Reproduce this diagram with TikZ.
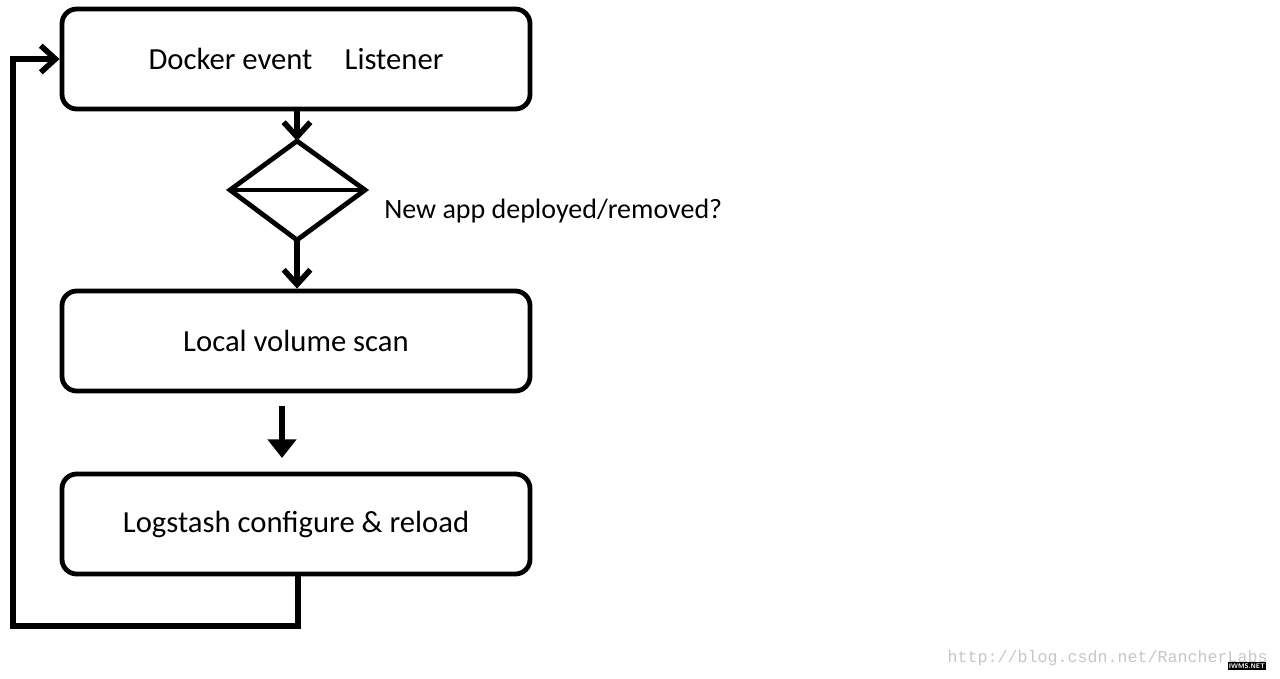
\documentclass[tikz,border=0pt]{standalone}
\usepackage{fontspec}
\setmainfont{Carlito}
\newfontfamily\wmfont{Liberation Mono}
\usetikzlibrary{arrows.meta}
\begin{document}
\begin{tikzpicture}[x=0.75pt,y=-0.75pt,
  box/.style={draw,line width=3.6pt,rounded corners=11pt,minimum width=351pt,minimum height=75pt,inner sep=0pt,font=\fontsize{23}{27}\selectfont},
  flow/.style={line width=3.8pt,-{Straight Barb[length=11pt,width=20pt,line width=4.2pt]}},
  lbl/.style={font=\fontsize{21}{25}\selectfont,anchor=west,inner sep=0pt}]
\useasboundingbox (0,0) rectangle (1280,678);
\node[box] (b1) at (296,59) {Docker event\hspace{1.05em}Listener};
\node[box] (b2) at (296,341) {Local volume scan};
\node[box] (b3) at (296,524) {Logstash configure \& reload};
\coordinate (dt) at (297,141);
\coordinate (db) at (297,240);
\coordinate (dl) at (230,190);
\coordinate (dr) at (365,190);
\draw[line width=3.6pt,line join=miter] (dt) -- (dr) -- (db) -- (dl) -- cycle;
\draw[line width=3.6pt] (dl) -- (dr);
\node[lbl] (q) at (384,211) {New app deployed/removed?};
\draw[flow] (b1.south -| dt) -- (dt);
\draw[flow] (db) -- (b2.north -| db);
\coordinate (a3s) at (282,406);
\coordinate (a3e) at (282,458);
\draw[line width=3.8pt,-{Triangle[length=14pt,width=21pt]}] (a3s) -- (a3e);
\coordinate (lp1) at (298,626);
\coordinate (lp2) at (13,626);
\coordinate (lp3) at (13,59);
\draw[flow,line join=miter] (b3.south -| lp1) -- (lp1) -- (lp2) -- (lp3) -- (b1.west |- lp3);
\node[font=\wmfont\fontsize{12.5}{15}\selectfont,text=black!22,anchor=east,inner sep=0pt] (wm) at (1268,658) {http://blog.csdn.net/RancherLabs};
\node[fill=black,text=white,font=\sffamily\bfseries\fontsize{5}{6}\selectfont,inner sep=0.8pt] (iw) at (1247,666) {IWMS.NET};
\end{tikzpicture}
\end{document}
